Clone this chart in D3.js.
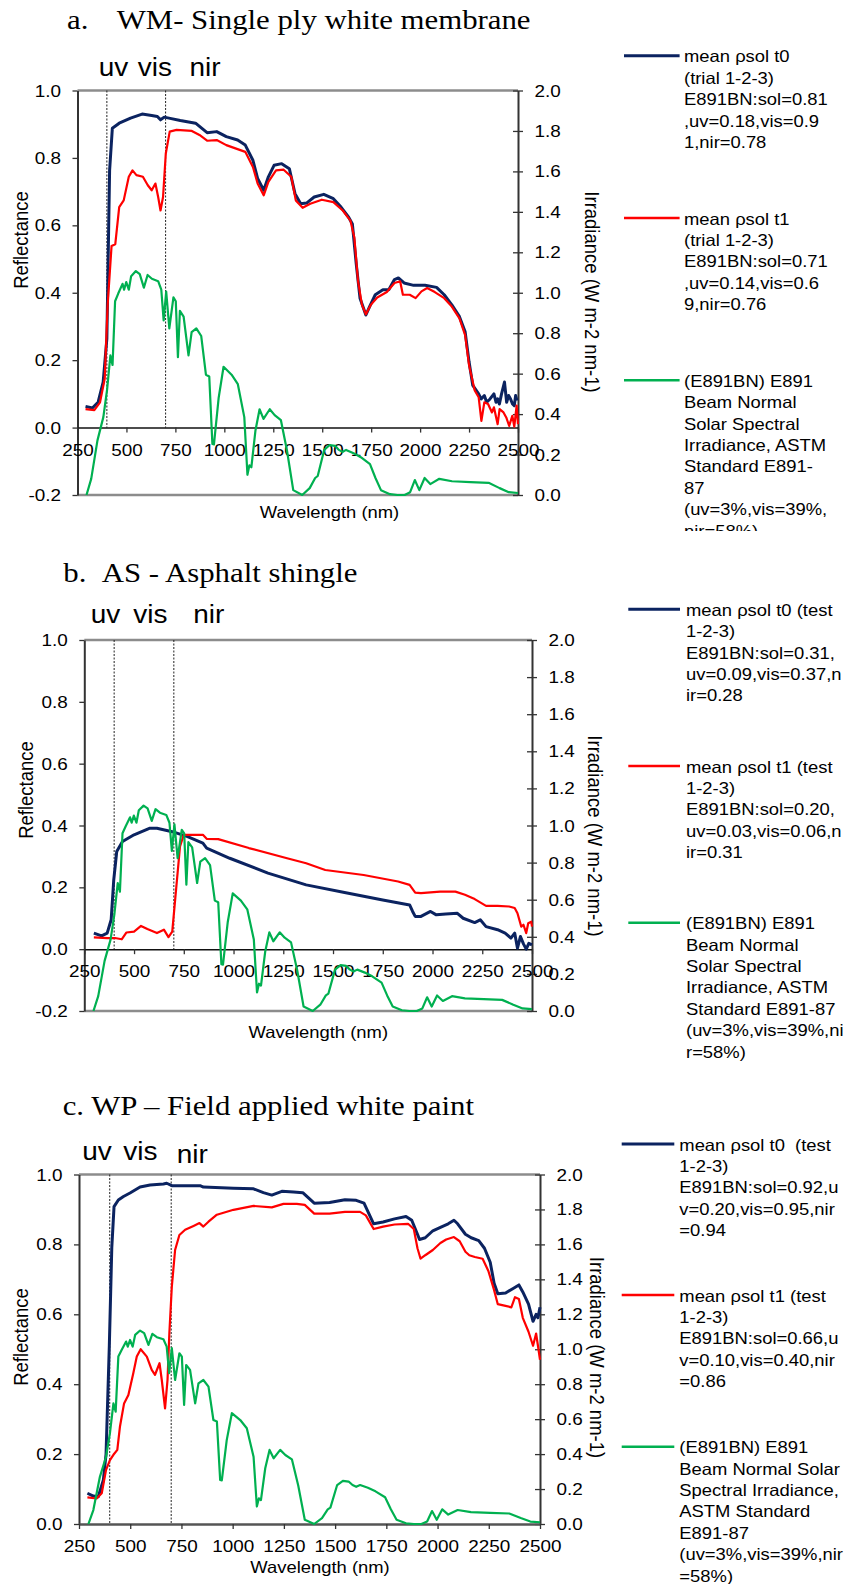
<!DOCTYPE html>
<html><head><meta charset="utf-8">
<script src="https://cdn.jsdelivr.net/npm/d3@7"></script>
<style>
body{margin:0;background:#fff}
</style></head><body>
<svg id="chart" width="849" height="1584"></svg>
<script>
// ---------------- DATA ----------------
const xTicks = [250,500,750,1000,1250,1500,1750,2000,2250,2500];
const reflTicksAB = [-0.2,0,0.2,0.4,0.6,0.8,1.0];
const reflTicksC = [0,0.2,0.4,0.6,0.8,1.0];
const irrTicks = [0,0.2,0.4,0.6,0.8,1.0,1.2,1.4,1.6,1.8,2.0];
const bandEdges = [400,700];
const bandLabels = ["uv","vis","nir"];

// ASTM E891 beam normal solar spectral irradiance (W m-2 nm-1), same in all panels
const irradianceE891 = [[296,0],[320,0.08],[352,0.27],[382,0.385],[401,0.52],[418,0.69],[429,0.643],[442,0.958],[458,0.996],[480,1.044],[488,1.015],[499,1.053],[512,1.015],[524,1.082],[548,1.107],[568,1.092],[589,1.025],[608,1.088],[630,1.069],[662,1.057],[678,1.015],[690,0.863],[703,1.006],[719,0.824],[740,0.977],[752,0.958],[763,0.681],[773,0.91],[792,0.882],[817,0.69],[833,0.805],[857,0.824],[882,0.786],[906,0.595],[923,0.586],[939,0.252],[947,0.25],[971,0.48],[996,0.634],[1037,0.595],[1069,0.548],[1102,0.385],[1118,0.1],[1128,0.147],[1138,0.137],[1159,0.319],[1180,0.424],[1200,0.376],[1232,0.424],[1257,0.395],[1289,0.37],[1320,0.22],[1352,0.024],[1398,0],[1436,0.034],[1464,0.084],[1477,0.094],[1510,0.223],[1538,0.247],[1566,0.243],[1585,0.223],[1603,0.213],[1622,0.223],[1660,0.207],[1697,0.187],[1744,0.153],[1772,0.084],[1800,0.024],[1846,0.004],[1884,0],[1921,0],[1949,0.014],[1973,0.074],[1996,0.024],[2023,0.084],[2052,0.054],[2098,0.08],[2163,0.068],[2257,0.064],[2350,0.06],[2406,0.034],[2453,0.014],[2500,0.01]];

// a. WM single ply white membrane
const wmT0 = [[291,0.063],[326,0.058],[355,0.075],[381,0.135],[400,0.264],[414,0.763],[428,0.888],[463,0.903],[521,0.918],[580,0.93],[629,0.926],[658,0.923],[674,0.913],[693,0.921],[717,0.918],[775,0.911],[853,0.903],[912,0.875],[961,0.878],[1010,0.863],[1068,0.853],[1107,0.838],[1146,0.793],[1170,0.739],[1201,0.704],[1225,0.744],[1254,0.778],[1293,0.783],[1332,0.768],[1361,0.694],[1390,0.664],[1420,0.666],[1459,0.684],[1508,0.692],[1557,0.679],[1596,0.654],[1635,0.624],[1654,0.604],[1674,0.484],[1693,0.384],[1723,0.334],[1742,0.359],[1771,0.394],[1810,0.409],[1840,0.409],[1869,0.439],[1889,0.444],[1918,0.429],[1967,0.422],[2025,0.422],[2084,0.416],[2123,0.394],[2162,0.364],[2201,0.329],[2230,0.284],[2250,0.195],[2269,0.125],[2299,0.1],[2312,0.085],[2328,0.095],[2340,0.075],[2357,0.085],[2377,0.1],[2388,0.075],[2396,0.085],[2405,0.07],[2416,0.1],[2431,0.135],[2442,0.075],[2452,0.095],[2462,0.085],[2472,0.07],[2481,0.065],[2488,0.095],[2495,0.08]];
const wmT1 = [[291,0.055],[336,0.052],[365,0.075],[389,0.145],[404,0.364],[424,0.539],[443,0.544],[463,0.654],[486,0.674],[512,0.744],[531,0.763],[551,0.749],[584,0.744],[609,0.719],[629,0.704],[648,0.724],[662,0.684],[674,0.644],[687,0.684],[701,0.813],[721,0.878],[756,0.883],[834,0.88],[873,0.868],[912,0.851],[961,0.853],[1010,0.838],[1107,0.818],[1146,0.773],[1170,0.724],[1201,0.689],[1225,0.729],[1264,0.763],[1303,0.765],[1342,0.744],[1365,0.674],[1400,0.652],[1439,0.664],[1498,0.676],[1557,0.669],[1605,0.644],[1644,0.614],[1664,0.564],[1683,0.434],[1703,0.364],[1723,0.336],[1748,0.364],[1781,0.386],[1830,0.402],[1869,0.429],[1898,0.434],[1912,0.394],[1947,0.394],[1977,0.384],[2007,0.404],[2036,0.414],[2075,0.402],[2123,0.384],[2162,0.359],[2201,0.324],[2230,0.274],[2250,0.185],[2279,0.11],[2299,0.09],[2313,0.02],[2328,0.075],[2347,0.07],[2367,0.045],[2377,0.06],[2396,0.01],[2406,0.055],[2426,0.045],[2440,0.03],[2455,0.005],[2471,0.035],[2481,0.003],[2493,0.065],[2500,0.01]];

// b. AS asphalt shingle
const asT0 = [[298,0.052],[337,0.043],[365,0.052],[385,0.095],[398,0.224],[413,0.316],[442,0.348],[500,0.37],[577,0.391],[615,0.391],[692,0.38],[769,0.364],[846,0.343],[865,0.327],[981,0.294],[1173,0.246],[1365,0.208],[1558,0.183],[1750,0.159],[1885,0.143],[1900,0.122],[1913,0.106],[1942,0.106],[1990,0.122],[2019,0.111],[2067,0.114],[2125,0.116],[2154,0.1],[2212,0.086],[2240,0.095],[2269,0.073],[2327,0.063],[2365,0.052],[2394,0.036],[2413,0.052],[2427,0.003],[2442,0.041],[2457,0.017],[2471,0],[2484,0.019],[2500,0.014]];
const asT1 = [[298,0.038],[365,0.036],[404,0.036],[438,0.032],[462,0.054],[500,0.057],[535,0.075],[567,0.065],[615,0.052],[650,0.063],[673,0.039],[692,0.057],[708,0.17],[731,0.332],[750,0.37],[788,0.37],[846,0.37],[865,0.357],[923,0.356],[1077,0.327],[1269,0.294],[1365,0.278],[1461,0.256],[1654,0.24],[1827,0.219],[1885,0.208],[1913,0.183],[1942,0.181],[2038,0.186],[2115,0.186],[2163,0.176],[2212,0.162],[2269,0.14],[2327,0.14],[2385,0.138],[2413,0.133],[2427,0.116],[2446,0.073],[2457,0.079],[2471,0.052],[2481,0.084],[2496,0.089],[2500,0.073]];

// c. WP field applied white paint
const wpT0 = [[291,0.088],[320,0.08],[344,0.078],[369,0.126],[382,0.2],[398,0.51],[410,0.79],[421,0.908],[442,0.927],[467,0.937],[499,0.947],[548,0.964],[597,0.97],[662,0.973],[678,0.975],[703,0.968],[744,0.968],[841,0.968],[857,0.964],[1004,0.961],[1102,0.959],[1150,0.948],[1191,0.941],[1240,0.952],[1297,0.95],[1342,0.948],[1398,0.918],[1473,0.92],[1548,0.928],[1603,0.926],[1641,0.918],[1688,0.859],[1734,0.864],[1790,0.873],[1846,0.88],[1874,0.869],[1902,0.829],[1912,0.814],[1940,0.819],[1977,0.839],[2014,0.849],[2052,0.859],[2080,0.869],[2098,0.859],[2136,0.829],[2164,0.819],[2201,0.811],[2229,0.789],[2257,0.749],[2276,0.689],[2294,0.659],[2332,0.661],[2369,0.674],[2397,0.684],[2416,0.664],[2444,0.629],[2466,0.58],[2481,0.6],[2490,0.59],[2500,0.62]];
const wpT1 = [[291,0.076],[336,0.073],[361,0.088],[382,0.155],[401,0.183],[418,0.198],[437,0.212],[450,0.279],[470,0.345],[491,0.369],[515,0.431],[532,0.479],[551,0.5],[581,0.479],[605,0.441],[621,0.427],[643,0.46],[654,0.412],[670,0.331],[682,0.412],[691,0.546],[703,0.679],[719,0.784],[740,0.827],[768,0.842],[809,0.853],[838,0.861],[857,0.851],[882,0.865],[923,0.885],[1004,0.899],[1102,0.91],[1191,0.906],[1248,0.916],[1313,0.916],[1352,0.913],[1398,0.888],[1473,0.888],[1548,0.893],[1622,0.893],[1650,0.883],[1688,0.844],[1734,0.851],[1790,0.857],[1856,0.859],[1884,0.844],[1902,0.789],[1917,0.759],[1940,0.769],[1977,0.784],[2014,0.804],[2042,0.814],[2080,0.821],[2108,0.809],[2136,0.779],[2155,0.769],[2182,0.764],[2220,0.759],[2248,0.724],[2276,0.669],[2294,0.629],[2332,0.624],[2360,0.62],[2378,0.649],[2397,0.644],[2416,0.59],[2444,0.55],[2466,0.51],[2481,0.545],[2490,0.51],[2500,0.47]];

const legendA = [
  ["mean ρsol t0","(trial 1-2-3)","E891BN:sol=0.81",",uv=0.18,vis=0.9","1,nir=0.78"],
  ["mean ρsol t1","(trial 1-2-3)","E891BN:sol=0.71",",uv=0.14,vis=0.6","9,nir=0.76"],
  ["(E891BN) E891","Beam Normal","Solar Spectral","Irradiance, ASTM","Standard E891-","87","(uv=3%,vis=39%,","nir=58%)"]];
const legendB = [
  ["mean ρsol t0 (test","1-2-3)","E891BN:sol=0.31,","uv=0.09,vis=0.37,n","ir=0.28"],
  ["mean ρsol t1 (test","1-2-3)","E891BN:sol=0.20,","uv=0.03,vis=0.06,n","ir=0.31"],
  ["(E891BN) E891","Beam Normal","Solar Spectral","Irradiance, ASTM","Standard E891-87","(uv=3%,vis=39%,ni","r=58%)"]];
const legendC = [
  ["mean ρsol t0  (test","1-2-3)","E891BN:sol=0.92,u","v=0.20,vis=0.95,nir","=0.94"],
  ["mean ρsol t1 (test","1-2-3)","E891BN:sol=0.66,u","v=0.10,vis=0.40,nir","=0.86"],
  ["(E891BN) E891","Beam Normal Solar","Spectral Irradiance,","ASTM Standard","E891-87","(uv=3%,vis=39%,nir","=58%)"]];

// ---------------- DRAWING ----------------
const SANS = 'Arial, "Liberation Sans", sans-serif';
const SERIF = '"Times New Roman", "Liberation Serif", serif';
const COL = {t0:"#0b2360", t1:"#ff0000", irr:"#00b050"};
const svg = d3.select("#chart");

function txt(g, str, x, y, o) {
  const t = g.append("text")
    .attr("transform", `translate(${x},${y})` + (o.rot ? ` rotate(${o.rot})` : "") + ` scale(${o.sx||1},${o.sy||1})`)
    .attr("font-size", o.size).attr("font-family", o.family || SANS)
    .attr("text-anchor", o.anchor || "start").attr("fill", "#000")
    .style("white-space", "pre").text(str);
  if (o.baseline) t.attr("dominant-baseline", o.baseline);
  return t;
}

function panel(c) {
  const g = svg.append("g");
  const x = d3.scaleLinear([250, 2500], [c.x0, c.x1]);
  const yL = d3.scaleLinear(c.reflDomain, [c.yBot, c.yTop]);
  const yR = d3.scaleLinear([0, 2], [c.yBot, c.yTop]);
  const TS = 16.3, TSX = 1.16;

  // titles
  c.title.forEach(t => txt(g, t[0], t[1], c.titleY, {size: 28, sx: 1.1, family: SERIF}));
  bandLabels.forEach((s, i) => txt(g, s, c.bandX[i], c.bandY[i], {size: 25, sx: 1.12}));

  // plot borders
  g.append("line").attr("x1", c.x0).attr("x2", c.x1).attr("y1", c.yTop).attr("y2", c.yTop)
    .attr("stroke", "#8c8c8c").attr("stroke-width", 2.5);
  if (c.reflDomain[0] < 0)
    g.append("line").attr("x1", c.x0).attr("x2", c.x1).attr("y1", c.yBot).attr("y2", c.yBot)
      .attr("stroke", "#8c8c8c").attr("stroke-width", 2.5);

  // band separators
  bandEdges.forEach(w => g.append("line").attr("x1", x(w)).attr("x2", x(w))
    .attr("y1", c.yTop).attr("y2", yL(0)).attr("stroke", "#222").attr("stroke-width", 1)
    .attr("stroke-dasharray", "2,1.5"));

  const fmt = d => d.toFixed(1);
  // left axis
  const gl = g.append("g").attr("transform", `translate(${c.x0},0)`)
    .call(d3.axisLeft(yL).tickValues(c.reflTicks).tickFormat(fmt).tickSize(5).tickSizeOuter(0));
  // right axis
  const gr = g.append("g").attr("transform", `translate(${c.x1},0)`)
    .call(d3.axisRight(yR).tickValues(irrTicks).tickFormat(fmt).tickSize(5).tickSizeOuter(0));
  gr.selectAll(".tick line").attr("x1", -5).attr("x2", 5);
  // bottom axis (at reflectance 0)
  const gb = g.append("g").attr("transform", `translate(0,${yL(0)})`)
    .call(d3.axisBottom(x).tickValues(xTicks).tickFormat(d => String(d)).tickSize(5).tickSizeOuter(0));

  [gl, gr, gb].forEach(a => {
    a.attr("font-size", null).attr("font-family", null);
    a.selectAll(".tick line").attr("stroke", "#333").attr("stroke-width", 1.3);
    a.selectAll(".tick text").attr("font-size", TS).attr("font-family", SANS).attr("fill", "#000")
      .attr("x", 0).attr("y", 0).attr("dy", null);
  });
  gl.select(".domain").attr("stroke", "#333").attr("stroke-width", 2);
  gr.select(".domain").attr("stroke", "#333").attr("stroke-width", 2);
  gb.select(".domain").attr("stroke", c.reflDomain[0] < 0 ? "#111" : "#555").attr("stroke-width", c.reflDomain[0] < 0 ? 1.5 : 2.5);
  gl.selectAll(".tick text").attr("dominant-baseline", "central").attr("transform", `translate(-16.5,0) scale(${TSX},1)`);
  gr.selectAll(".tick text").attr("dominant-baseline", "central").attr("transform", `translate(16.5,0) scale(${TSX},1)`);
  gb.selectAll(".tick text").attr("transform", `translate(0,28) scale(${TSX},1)`);

  // axis titles
  txt(g, "Reflectance", c.reflLab[0], c.reflLab[1], {size: 18.5, rot: -90, sy: 1.13, anchor: "middle", baseline: "central"});
  txt(g, "Irradiance (W m-2 nm-1)", c.irrLab[0], c.irrLab[1], {size: 18.5, rot: 90, sy: 1.13, anchor: "middle", baseline: "central"});
  txt(g, "Wavelength (nm)", c.wlLab[0], c.wlLab[1], {size: TS, sx: 1.13, anchor: "middle"});

  // series
  const clipId = "clip" + c.id;
  g.append("clipPath").attr("id", clipId).append("rect")
    .attr("x", c.x0 - 1).attr("y", c.yTop - 3).attr("width", c.x1 - c.x0 + 3).attr("height", c.yBot - c.yTop + 5);
  const gs = g.append("g").attr("clip-path", `url(#${clipId})`);
  const lineL = d3.line().x(d => x(d[0])).y(d => yL(d[1]));
  const lineR = d3.line().x(d => x(d[0])).y(d => yR(d[1]));
  gs.append("path").attr("d", lineL(c.t0)).attr("fill", "none").attr("stroke", COL.t0).attr("stroke-width", 3).attr("stroke-linejoin", "round");
  gs.append("path").attr("d", lineL(c.t1)).attr("fill", "none").attr("stroke", COL.t1).attr("stroke-width", 2.2).attr("stroke-linejoin", "round");
  gs.append("path").attr("d", lineR(irradianceE891)).attr("fill", "none").attr("stroke", COL.irr).attr("stroke-width", 2.2).attr("stroke-linejoin", "round");

  // legend
  const lgClip = "lgclip" + c.id;
  g.append("clipPath").attr("id", lgClip).append("rect")
    .attr("x", 600).attr("y", c.legClip[0]).attr("width", 249).attr("height", c.legClip[1] - c.legClip[0]);
  const lg = g.append("g").attr("clip-path", `url(#${lgClip})`);
  const cols = [COL.t0, COL.t1, COL.irr];
  c.legend.forEach((lines, i) => {
    const ly = c.legY[i];
    lg.append("line").attr("x1", c.legLine[0]).attr("x2", c.legLine[1]).attr("y1", ly).attr("y2", ly)
      .attr("stroke", cols[i]).attr("stroke-width", i === 0 ? 3 : 2.6);
    lines.forEach((s, j) => txt(lg, s, c.legText, ly + 6.5 + j * 21.4, {size: 16.3, sx: 1.13}));
  });
}

panel({id: "a", x0: 77.5, x1: 518, yTop: 90.5, yBot: 495, reflDomain: [-0.2, 1], reflTicks: reflTicksAB,
  t0: wmT0, t1: wmT1, title: [["a.", 67], ["WM- Single ply white membrane", 116.7]], titleY: 28.6,
  bandX: [98.7, 137.8, 189.4], bandY: [75.8, 75.8, 75.8],
  reflLab: [21, 240], irrLab: [592, 292], wlLab: [329.5, 518],
  legend: legendA, legY: [55.8, 218, 380.3], legLine: [624, 679.6], legText: 684, legClip: [0, 531]});

panel({id: "b", x0: 84.3, x1: 532, yTop: 640, yBot: 1011, reflDomain: [-0.2, 1], reflTicks: reflTicksAB,
  t0: asT0, t1: asT1, title: [["b.", 63.3], ["AS - Asphalt shingle", 101.7]], titleY: 581.7,
  bandX: [90.7, 133.3, 193.3], bandY: [623.3, 623.3, 623.3],
  reflLab: [26, 790], irrLab: [595, 836], wlLab: [318.3, 1038],
  legend: legendB, legY: [609.3, 766, 922.7], legLine: [628.3, 680], legText: 686, legClip: [560, 1100]});

panel({id: "c", x0: 79, x1: 540, yTop: 1174.5, yBot: 1524, reflDomain: [0, 1], reflTicks: reflTicksC,
  t0: wpT0, t1: wpT1, title: [["c. WP – Field applied white paint", 62.7]], titleY: 1115,
  bandX: [82.3, 123.3, 176.7], bandY: [1160, 1160, 1163.3],
  reflLab: [21, 1337], irrLab: [597, 1357.5], wlLab: [320, 1573],
  legend: legendC, legY: [1144, 1295, 1446.7], legLine: [621.7, 674.3], legText: 679.3, legClip: [1100, 1584]});
</script>
</body></html>
